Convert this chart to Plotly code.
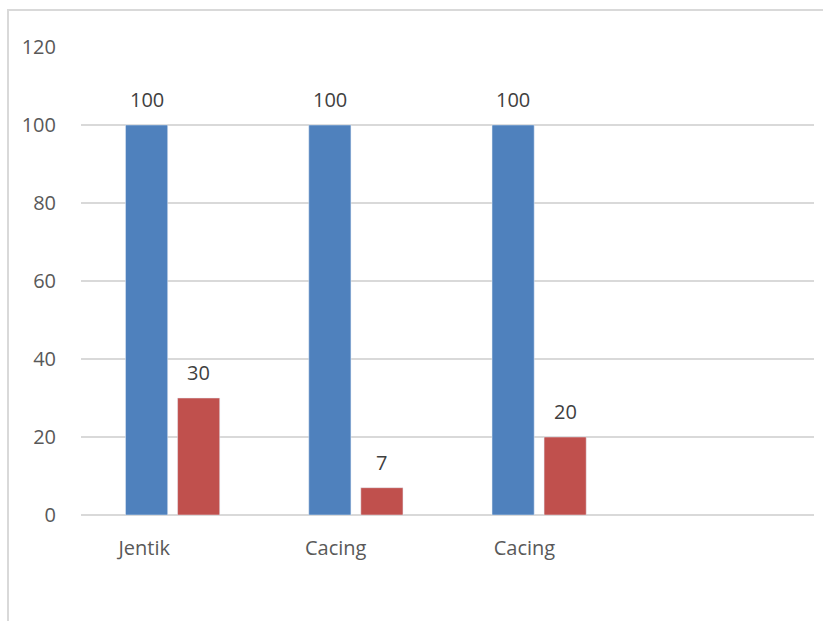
import plotly.graph_objects as go

categories = ["Jentik", "Cacing", "Cacing"]
series_a = [100, 100, 100]
series_b = [30, 7, 20]
y_ticks = [0, 20, 40, 60, 80, 100, 120]

x_pos = list(range(len(categories)))
label_pos = [-0.155, 0.89, 1.92]

BARGAP = 0.432
BARGROUPGAP = 0.19

fig = go.Figure()
fig.add_trace(go.Bar(x=x_pos, y=series_a, marker_color="#4F81BD"))
fig.add_trace(go.Bar(x=x_pos, y=series_b, marker_color="#C0504D"))

half = (1 - BARGAP) / 4
annotations = []
for i, v in enumerate(series_a):
    annotations.append(dict(x=x_pos[i] - half, y=v, xref="x", yref="y", text=str(v),
                            showarrow=False, yanchor="bottom", yshift=10,
                            font=dict(size=20, color="#404040")))
for i, v in enumerate(series_b):
    annotations.append(dict(x=x_pos[i] + half, y=v, xref="x", yref="y", text=str(v),
                            showarrow=False, yanchor="bottom", yshift=10,
                            font=dict(size=20, color="#404040")))

L, R, T, B = 81, 9, 47, 106
W, H = 823, 621
pw, ph = W - L - R, H - T - B

fig.update_layout(
    width=W, height=H,
    margin=dict(l=L, r=R, t=T, b=B),
    paper_bgcolor="white", plot_bgcolor="white",
    showlegend=False,
    barmode="group", bargap=BARGAP, bargroupgap=BARGROUPGAP,
    font=dict(family="Open Sans, Liberation Sans, sans-serif", size=20, color="#595959"),
    xaxis=dict(range=[-0.5, 3.5], tickvals=label_pos, ticktext=categories,
               showgrid=False, zeroline=False, showline=False, ticks="",
               tickfont=dict(size=20, color="#595959"), ticklabelstandoff=19),
    yaxis=dict(range=[0, 120], tickvals=y_ticks, showgrid=True, gridcolor="#D9D9D9",
               gridwidth=2, zeroline=True, zerolinecolor="#D9D9D9", zerolinewidth=2,
               showline=False, ticks="", tickfont=dict(size=20, color="#595959"),
               ticklabelstandoff=24),
    annotations=annotations,
    shapes=[dict(type="rect", xref="paper", yref="paper",
                 x0=(8 - L) / pw, x1=(W + 20 - L) / pw,
                 y0=-(H + 20 - (H - B)) / ph, y1=1 + (T - 10) / ph,
                 line=dict(color="#D9D9D9", width=2), layer="below")],
)

fig.write_html("out.html")
